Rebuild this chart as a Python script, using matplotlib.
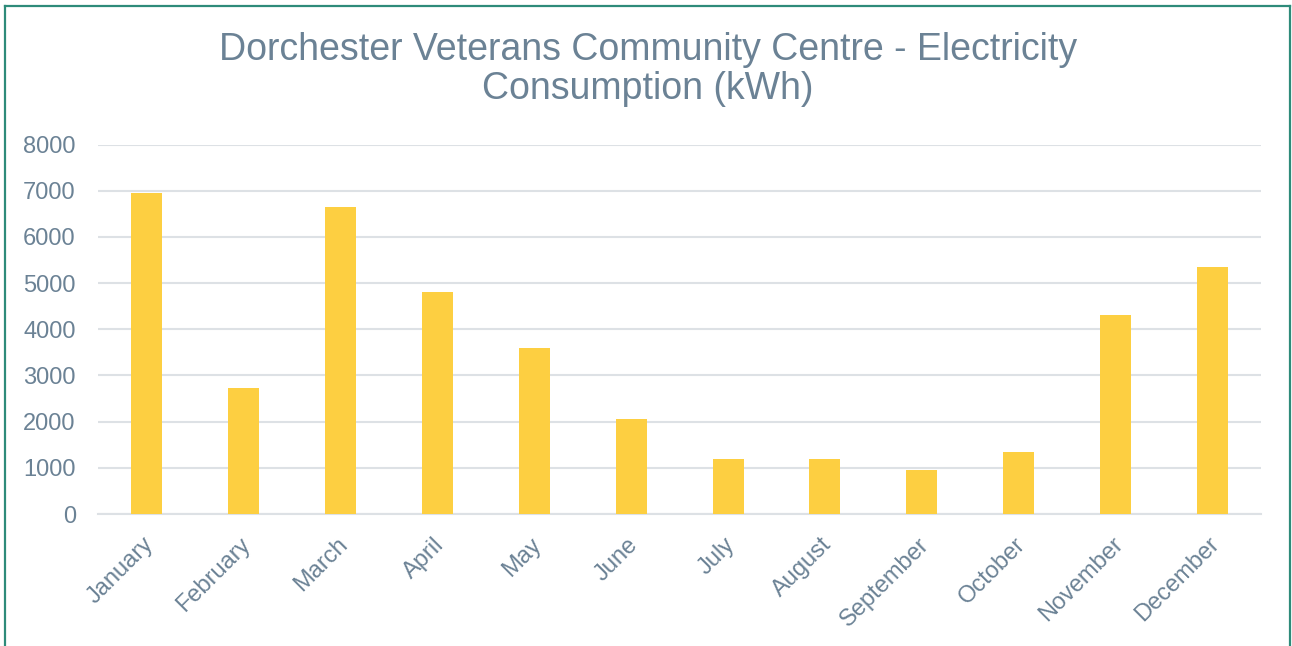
import matplotlib
matplotlib.use("Agg")
import matplotlib.pyplot as plt
import matplotlib.transforms as mtransforms
from matplotlib.lines import Line2D

months = ["January", "February", "March", "April", "May", "June",
          "July", "August", "September", "October", "November", "December"]
kwh = [6960, 2730, 6645, 4810, 3590, 2065, 1195, 1195, 955, 1350, 4310, 5355]
y_ticks = [0, 1000, 2000, 3000, 4000, 5000, 6000, 7000, 8000]

text_col = "#6b8295"
bar_col = "#fdcf41"
grid_col = "#dde1e5"
frame_col = "#2e8b7a"

plt.rcParams["font.family"] = ["Liberation Sans", "DejaVu Sans"]

fig = plt.figure(figsize=(12.92, 6.46), dpi=100)
ax = fig.add_axes([0.0759, 0.2043, 0.9002, 0.572])

x = list(range(len(months)))
ax.bar(x, kwh, width=0.32, color=bar_col, zorder=3)

ax.set_ylim(0, 8000)
ax.set_xlim(-0.5, len(months) - 0.5)
ax.set_yticks(y_ticks)
ax.set_yticklabels([str(v) for v in y_ticks])
ax.yaxis.grid(True, color=grid_col, linewidth=1.5, zorder=0)
ax.set_axisbelow(True)
for side in ["top", "right", "left"]:
    ax.spines[side].set_visible(False)
ax.spines["bottom"].set_color(grid_col)
ax.spines["bottom"].set_linewidth(1.5)
ax.tick_params(axis="y", length=0, pad=16, labelsize=17, labelcolor=text_col)
ax.tick_params(axis="x", length=0, pad=14, labelsize=17, labelcolor=text_col)

ax.set_xticks(x)
ax.set_xticklabels(months, rotation=45, ha="right", va="top", rotation_mode="anchor")
# Excel-style placement: label end sits just right of the bar centre
offset = mtransforms.ScaledTranslation(-3 / 72, 0, fig.dpi_scale_trans)
for lab in ax.get_xticklabels():
    lab.set_transform(lab.get_transform() + offset)

fig.text(0.5015, 0.893, "Dorchester Veterans Community Centre - Electricity\nConsumption (kWh)",
         ha="center", va="center", fontsize=27, color=text_col, linespacing=1.1)

# teal frame around the chart
fig.add_artist(Line2D([5 / 1292, 5 / 1292], [0, 1 - 6 / 646], color=frame_col, linewidth=1.6, transform=fig.transFigure))
fig.add_artist(Line2D([1290 / 1292, 1290 / 1292], [0, 1 - 6 / 646], color=frame_col, linewidth=1.6, transform=fig.transFigure))
fig.add_artist(Line2D([5 / 1292, 1290 / 1292], [1 - 6 / 646, 1 - 6 / 646], color=frame_col, linewidth=1.6, transform=fig.transFigure))

fig.savefig("out.png", dpi=100)
